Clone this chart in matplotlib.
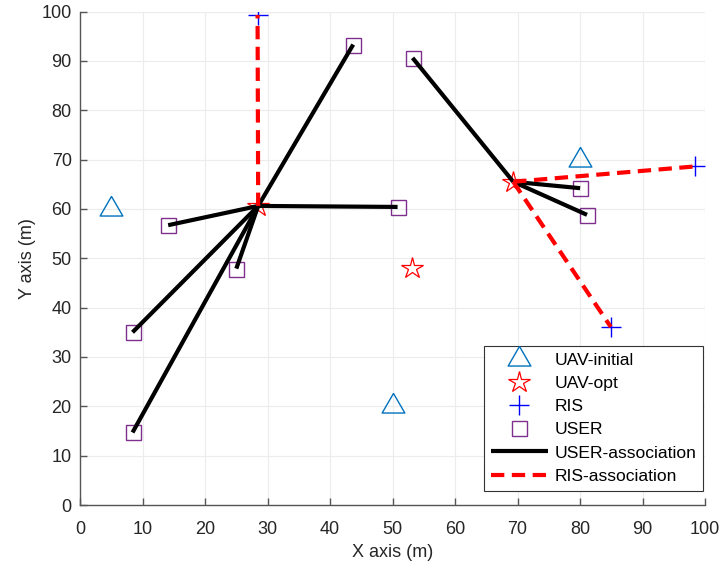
import matplotlib
matplotlib.use("Agg")
import matplotlib.pyplot as plt

plt.rcParams['font.family'] = ['Liberation Sans', 'DejaVu Sans']

# UAV initial positions
uav_init_x = [5, 80, 50]
uav_init_y = [60, 70, 20]

# optimised UAV positions
uav_opt_x = [28.5, 69.3, 53.1]
uav_opt_y = [60.6, 65.5, 48.0]

# RIS positions
ris_x = [28.4, 98.3, 84.9]
ris_y = [99.3, 68.6, 36.1]

# users
user_x = [43.7, 14.1, 50.8, 25.0, 8.4, 8.4, 53.2, 80.0, 81.1]
user_y = [93.3, 56.7, 60.4, 47.9, 35.0, 14.7, 90.6, 64.2, 58.8]
user_uav = [0, 0, 0, 0, 0, 0, 1, 1, 1]   # which optimised UAV serves the user

# RIS -> UAV association
ris_uav = [0, 1, 1]

tri = [(0, 2), (-1.74, -1), (1.74, -1), (0, 2)]   # triangle centred on its centroid

fig = plt.figure(figsize=(7.21, 5.64), dpi=100)
ax = fig.add_axes([0.111, 0.1046, 0.867, 0.875])

ax.plot(uav_init_x, uav_init_y, linestyle='none', marker=tri, markersize=18.8,
        markerfacecolor='none', markeredgecolor='#0072BD', markeredgewidth=1.0, label='UAV-initial')
ax.plot(uav_opt_x, uav_opt_y, linestyle='none', marker='*', markersize=16,
        markerfacecolor='none', markeredgecolor='red', markeredgewidth=0.9, label='UAV-opt')
ax.plot(ris_x, ris_y, linestyle='none', marker='+', markersize=13.7,
        color='blue', markeredgewidth=1.0, label='RIS')
ax.plot(user_x, user_y, linestyle='none', marker='s', markersize=10.8,
        markerfacecolor='none', markeredgecolor='#7E2F8E', markeredgewidth=1.0, label='USER')

for i in range(len(user_x)):
    u = user_uav[i]
    ax.plot([uav_opt_x[u], user_x[i]], [uav_opt_y[u], user_y[i]], color='black', lw=3,
            solid_capstyle='butt', label='USER-association' if i == 0 else None)

for i in range(len(ris_x)):
    u = ris_uav[i]
    ax.plot([uav_opt_x[u], ris_x[i]], [uav_opt_y[u], ris_y[i]], color='red', lw=3,
            linestyle=(0, (3.2, 1.8)), dash_capstyle='butt',
            label='RIS-association' if i == 0 else None)

ax.set_xlim(0, 100)
ax.set_ylim(0, 100)
ax.set_xticks(range(0, 101, 10))
ax.set_yticks(range(0, 101, 10))
ax.grid(True, color='#ececec', lw=0.8)
ax.set_axisbelow(True)
for s in ['top', 'right']:
    ax.spines[s].set_visible(False)
for s in ['left', 'bottom']:
    ax.spines[s].set_color('#555555')
    ax.spines[s].set_linewidth(1.0)
ax.tick_params(direction='in', length=5, width=1, color='#555555', labelsize=13,
               labelcolor='#262626')
ax.tick_params(axis='x', pad=11.5)
ax.tick_params(axis='y', pad=6)
ax.set_xlabel('X axis (m)', fontsize=13, color='#262626', labelpad=4)
ax.set_ylabel('Y axis (m)', fontsize=13, color='#262626', labelpad=4)

leg = ax.legend(loc='lower right', bbox_to_anchor=(0.997, 0.029), fontsize=12.6,
                frameon=True, fancybox=False, framealpha=1, edgecolor='#333333',
                handlelength=3.3, handletextpad=0.35, labelspacing=0.45,
                borderpad=0.4, borderaxespad=0)
leg.get_frame().set_linewidth(0.8)
for t in leg.get_texts():
    t.set_color('black')

fig.savefig('out.png', dpi=100)
